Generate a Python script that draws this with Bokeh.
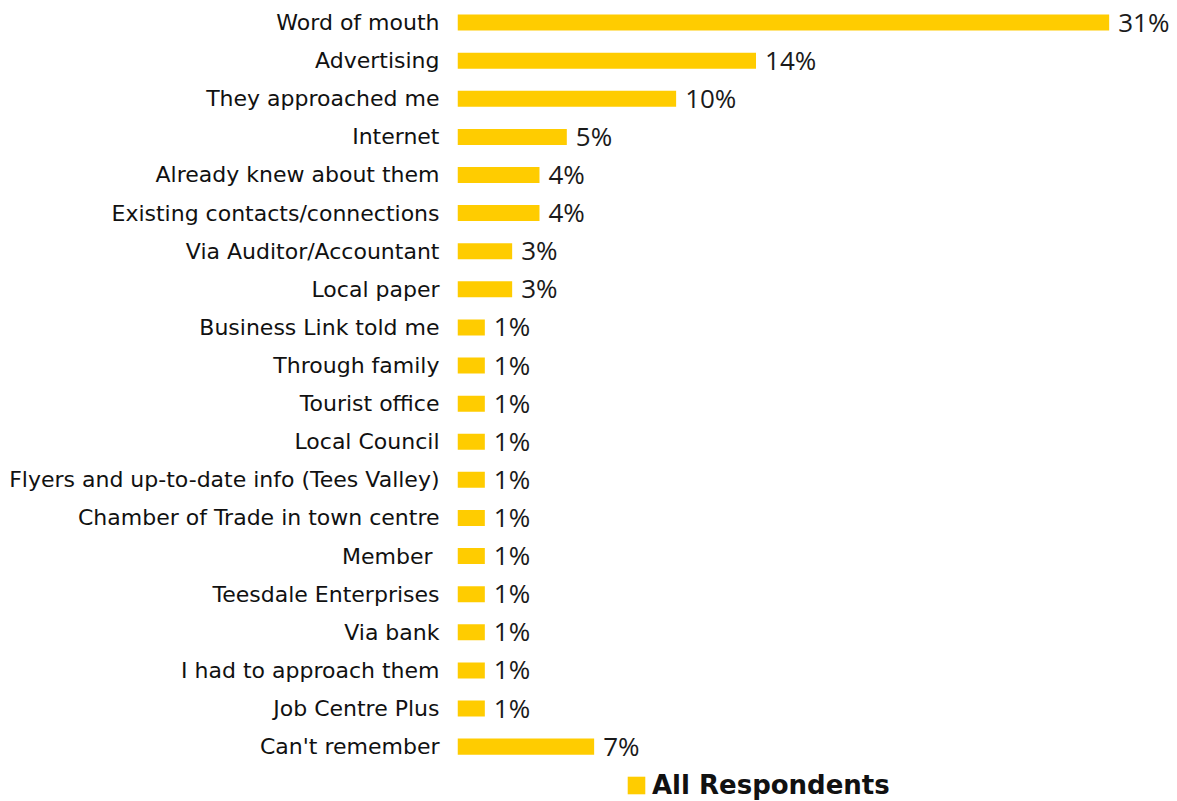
from bokeh.plotting import figure
from bokeh.models import ColumnDataSource, Range1d, Legend, LegendItem, FixedTicker
from bokeh.core.properties import value
from bokeh.embed import file_html
from bokeh.resources import INLINE

categories = [
    "Word of mouth",
    "Advertising",
    "They approached me",
    "Internet",
    "Already knew about them",
    "Existing contacts/connections",
    "Via Auditor/Accountant",
    "Local paper",
    "Business Link told me",
    "Through family",
    "Tourist office",
    "Local Council",
    "Flyers and up-to-date info (Tees Valley)",
    "Chamber of Trade in town centre",
    "Member ",
    "Teesdale Enterprises",
    "Via bank",
    "I had to approach them",
    "Job Centre Plus",
    "Can't remember",
]
values = [31.0, 14.2, 10.4, 5.2, 3.9, 3.9, 2.6, 2.6, 1.3, 1.3, 1.3, 1.3, 1.3, 1.3, 1.3, 1.3, 1.3, 1.3, 1.3, 6.5]
value_labels = ["31%", "14%", "10%", "5%", "4%", "4%", "3%", "3%", "1%", "1%", "1%", "1%", "1%", "1%", "1%", "1%", "1%", "1%", "1%", "7%"]
series_name = "All Respondents"

BAR = "#FFCC00"

n = len(categories)
ypos = [n - 1 - i for i in range(n)]  # top category at the top

source = ColumnDataSource(dict(y=ypos, cat=categories, val=values, lab=value_labels))

p = figure(
    width=1177, height=801,
    y_range=Range1d(-1.44, n - 0.5),
    x_range=Range1d(0, 34.25),
    x_axis_type=None,
    output_backend="svg",
    toolbar_location=None,
    min_border_left=457, min_border_right=0,
    min_border_top=3, min_border_bottom=0,
)
p.outline_line_color = None
p.xgrid.visible = False
p.ygrid.visible = False

r = p.hbar(y="y", right="val", left=0, height=0.42, source=source,
           fill_color=BAR, line_color=None)

p.text(x="val", y="y", text="lab", source=source, x_offset=9, y_offset=-1,
       text_baseline="middle", text_align="left",
       text_font=value("Open Sans"), text_font_size="26px", text_color="#1a1a1a")

ax = p.yaxis[0]
ax.ticker = FixedTicker(ticks=ypos)
ax.major_label_overrides = {y: c for y, c in zip(ypos, categories)}
ax.axis_line_color = None
ax.major_tick_line_color = None
ax.minor_tick_line_color = None
ax.major_tick_out = 0
ax.major_tick_in = 0
ax.minor_tick_out = 0
ax.minor_tick_in = 0
ax.major_label_standoff = 18
ax.major_label_text_font = "DejaVu Sans"
ax.major_label_text_font_size = "22px"
ax.major_label_text_color = "#111111"

legend = Legend(
    items=[LegendItem(label=series_name, renderers=[r])],
    location=(168, 1),
    glyph_width=22, glyph_height=22,
    label_standoff=5,
    label_height=18,
    label_text_font="DejaVu Sans",
    label_text_font_style="bold",
    label_text_font_size="26px",
    label_text_color="#111111",
    padding=0, margin=0, spacing=0,
    border_line_color=None,
    background_fill_alpha=0,
)
p.add_layout(legend, "center")

open("out.html", "w").write(file_html(p, INLINE))
